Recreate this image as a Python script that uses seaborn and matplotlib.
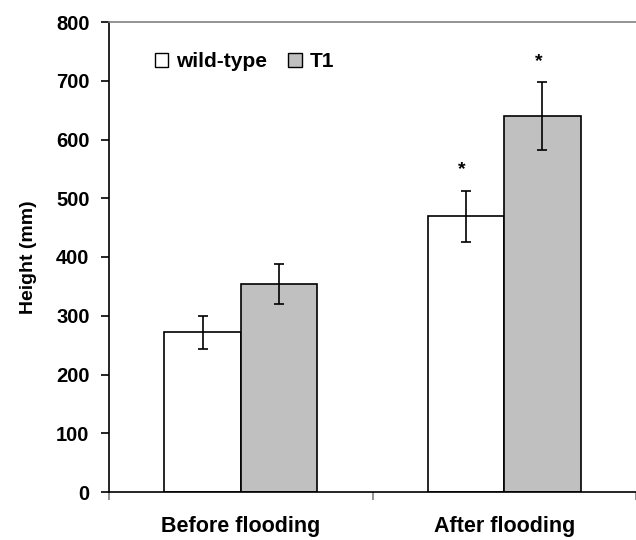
import matplotlib
matplotlib.use("Agg")
import matplotlib.pyplot as plt
from matplotlib.patches import Patch
import pandas as pd
import seaborn as sns

# Valori
conditions = ["Before flooding", "After flooding"]
genotypes = ["wild-type", "T1"]
heights = {"wild-type": [272, 469], "T1": [354, 640]}
errors = {"wild-type": [28, 44], "T1": [34, 58]}
significant = {"wild-type": [False, True], "T1": [False, True]}
colors = {"wild-type": "#ffffff", "T1": "#c0c0c0"}

rows = []
for g in genotypes:
    for i, c in enumerate(conditions):
        rows.append({"condition": c, "genotype": g, "height": heights[g][i],
                     "err": errors[g][i], "sig": significant[g][i]})
df = pd.DataFrame(rows)

sns.set_style("ticks")
plt.rcParams["font.family"] = ["Liberation Sans", "DejaVu Sans"]
plt.rcParams["font.weight"] = "bold"
plt.rcParams["text.color"] = "black"
plt.rcParams["axes.labelcolor"] = "black"
plt.rcParams["xtick.labelcolor"] = "black"
plt.rcParams["ytick.labelcolor"] = "black"

fig = plt.figure(figsize=(6.36, 5.4), dpi=100)
ax = fig.add_axes([109 / 636, 48 / 540, 527 / 636, 470 / 540])

sns.barplot(data=df, x="condition", y="height", hue="genotype", order=conditions,
            hue_order=genotypes, palette=colors, width=0.58, errorbar=None,
            edgecolor="black", linewidth=1.2, legend=False, ax=ax)

# Barre d'errore e asterischi sopra le barre
for g, cont in zip(genotypes, ax.containers):
    for i, bar in enumerate(cont):
        x = bar.get_x() + bar.get_width() / 2
        y = heights[g][i]
        ax.errorbar(x, y, yerr=errors[g][i], fmt="none", ecolor="black",
                    elinewidth=1.2, capsize=3.8, capthick=1.2)
        if significant[g][i]:
            ax.annotate("*", (x, y + errors[g][i]), xytext=(-3, 15),
                        textcoords="offset points", ha="center", va="center",
                        fontsize=14, fontweight="bold")

ax.set_ylim(0, 800)
ax.set_xlim(-0.5, 1.5)
ax.set_yticks(range(0, 801, 100))
ax.set_xticks([0, 1])
ax.set_xticks([-0.5, 0.5, 1.5], minor=True)
ax.tick_params(axis="x", which="major", length=0, pad=17, labelsize=15.5)
ax.tick_params(axis="x", which="minor", length=6, width=1.2, color="#808080")
ax.tick_params(axis="y", length=6, width=1.2, pad=8, labelsize=14.5, color="black")
for lab in ax.get_xticklabels() + ax.get_yticklabels():
    lab.set_fontweight("bold")

ax.set_xlabel("")
ax.set_ylabel("Height (mm)", fontsize=14, fontweight="bold", labelpad=14)

for s in ["left", "bottom"]:
    ax.spines[s].set_color("black")
    ax.spines[s].set_linewidth(1.2)
ax.spines["right"].set_visible(False)
ax.spines["top"].set_visible(True)
ax.spines["top"].set_color("#808080")
ax.spines["top"].set_linewidth(1.2)

handles = [Patch(facecolor=colors[g], edgecolor="black", linewidth=1.0, label=g)
           for g in genotypes]
ax.legend(handles=handles, ncol=2, frameon=False, loc="center left",
          bbox_to_anchor=(0.087, 0.915), borderaxespad=0, borderpad=0,
          handlelength=0.65, handleheight=0.65, handletextpad=0.38,
          columnspacing=1.0, prop={"size": 15, "weight": "bold"})

fig.savefig("out.png", dpi=100)
